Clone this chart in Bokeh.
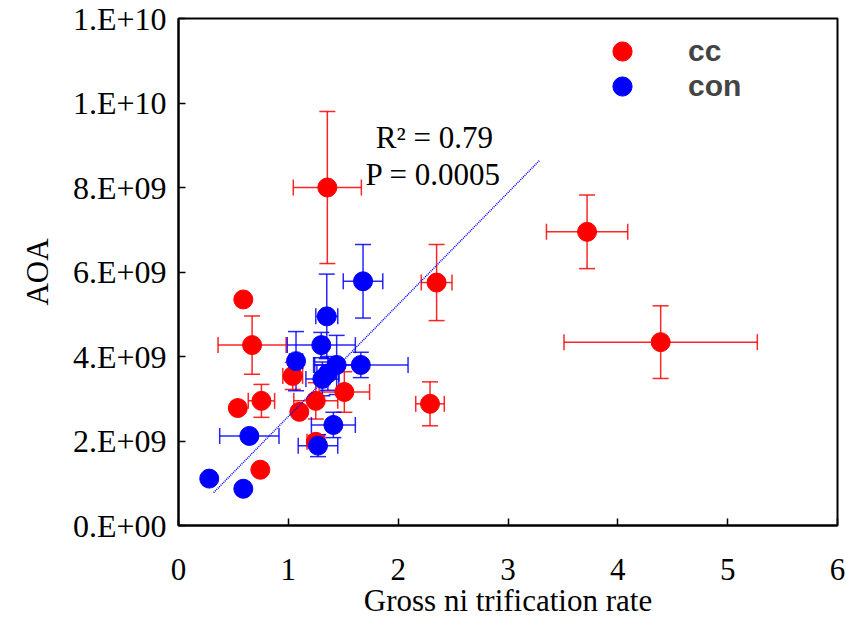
from bokeh.plotting import figure
from bokeh.models import (ColumnDataSource, Whisker, TeeHead, Legend, LegendItem,
                          FixedTicker, CustomJSTickFormatter, Label, Range1d)
from bokeh.embed import file_html
from bokeh.resources import INLINE

# ---- data ----
cc_x    = [1.355, 3.72, 4.39, 2.35, 2.29, 0.59, 0.67, 0.54, 0.755, 1.04, 1.10, 1.25, 1.51, 1.25, 0.745]
cc_y    = [8.0e9, 6.95e9, 4.34e9, 5.75e9, 2.88e9, 5.35e9, 4.27e9, 2.78e9, 2.95e9, 3.54e9, 2.69e9, 2.95e9, 3.16e9, 1.98e9, 1.32e9]
cc_xerr = [0.31, 0.37, 0.88, 0.14, 0.13, None, 0.31, None, 0.12, 0.09, None, 0.20, 0.23, 0.08, None]
cc_yerr = [1.8e9, 0.87e9, 0.86e9, 0.9e9, 0.52e9, None, 0.69e9, None, 0.39e9, 0.32e9, None, 0.43e9, 0.48e9, 0.15e9, None]

con_x    = [1.68, 1.35, 1.30, 1.07, 1.44, 1.66, 1.31, 1.36, 1.41, 1.27, 0.645, 0.28, 0.59]
con_y    = [5.78e9, 4.95e9, 4.27e9, 3.89e9, 3.80e9, 3.80e9, 3.47e9, 3.60e9, 2.38e9, 1.89e9, 2.12e9, 1.11e9, 0.87e9]
con_xerr = [0.18, 0.10, 0.31, 0.06, 0.20, 0.43, 0.15, 0.10, 0.20, 0.18, 0.27, None, None]
con_yerr = [0.87e9, 1.0e9, 0.30e9, 0.70e9, 0.70e9, 0.30e9, 0.40e9, 0.40e9, 0.30e9, 0.26e9, 0.10e9, None, None]

trend_x = [0.32, 3.29]
trend_slope = 2.65e9
trend_intercept = -0.07e9

x_ticks = [0, 1, 2, 3, 4, 5, 6]
y_ticks = [0, 2e9, 4e9, 6e9, 8e9, 1.0e10, 1.2e10]
y_tick_labels = ["0.E+00", "2.E+09", "4.E+09", "6.E+09", "8.E+09", "1.E+10", "1.E+10"]

series_names = ["cc", "con"]
stat_lines = ["R\u00b2 = 0.79", "P = 0.0005"]

SERIF = "Liberation Serif"
RED = "#ff0000"
BLUE = "#0000ff"

p = figure(width=846, height=620, output_backend="svg", toolbar_location=None,
           x_range=Range1d(0, 6), y_range=Range1d(0, 1.2e10),
           min_border_left=178, min_border_right=9, min_border_top=18, min_border_bottom=93)
p.grid.visible = False
p.outline_line_color = "black"
p.outline_line_width = 2
p.background_fill_color = "white"
p.border_fill_color = "white"

def err_sources(xs, ys, xe, ye):
    xi = [i for i in range(len(xs)) if xe[i] is not None]
    yi = [i for i in range(len(xs)) if ye[i] is not None]
    sx = ColumnDataSource(dict(base=[ys[i] for i in xi],
                               lower=[xs[i] - xe[i] for i in xi],
                               upper=[xs[i] + xe[i] for i in xi]))
    sy = ColumnDataSource(dict(base=[xs[i] for i in yi],
                               lower=[ys[i] - ye[i] for i in yi],
                               upper=[ys[i] + ye[i] for i in yi]))
    return sx, sy

def add_errors(xs, ys, xe, ye, color):
    sx, sy = err_sources(xs, ys, xe, ye)
    for src, dim in ((sx, "width"), (sy, "height")):
        w = Whisker(source=src, base="base", lower="lower", upper="upper", dimension=dim,
                    line_color=color, line_width=1.5, line_alpha=0.85,
                    upper_head=TeeHead(size=16, line_color=color, line_width=1.5, line_alpha=0.85),
                    lower_head=TeeHead(size=16, line_color=color, line_width=1.5, line_alpha=0.85))
        p.add_layout(w)

add_errors(cc_x, cc_y, cc_xerr, cc_yerr, RED)
add_errors(con_x, con_y, con_xerr, con_yerr, BLUE)

r_cc = p.scatter(cc_x, cc_y, size=19, color=RED, line_color=RED)
r_con = p.scatter(con_x, con_y, size=19, color=BLUE, line_color=BLUE)

trend_y = [trend_slope * x + trend_intercept for x in trend_x]
p.line(trend_x, trend_y, line_color=BLUE, line_width=1.5, line_dash="1 1")

# stats text
p.add_layout(Label(x=2.33, y=9.19e9, text=stat_lines[0], text_align="center", text_baseline="middle",
                   text_font=SERIF, text_font_size="31px", text_color="black"))
p.add_layout(Label(x=2.32, y=8.30e9, text=stat_lines[1], text_align="center", text_baseline="middle",
                   text_font=SERIF, text_font_size="31px", text_color="black"))

# axes
p.xaxis.ticker = FixedTicker(ticks=x_ticks)
p.yaxis.ticker = FixedTicker(ticks=y_ticks)
p.yaxis.formatter = CustomJSTickFormatter(args=dict(yt=y_ticks, yl=y_tick_labels), code="""
    let best = 0, bd = Infinity;
    for (let i = 0; i < yt.length; i++) {
        const d = Math.abs(yt[i] - tick);
        if (d < bd) { bd = d; best = i; }
    }
    return yl[best];
""")
for ax in (p.xaxis[0], p.yaxis[0]):
    ax.axis_line_width = 2
    ax.axis_line_color = "black"
    ax.major_tick_in = 7
    ax.major_tick_out = 0
    ax.major_tick_line_width = 1.5
    ax.minor_tick_line_color = None
    ax.major_label_text_font = SERIF
    ax.major_label_text_color = "black"
    ax.axis_label_text_font = SERIF
    ax.axis_label_text_font_style = "normal"
    ax.axis_label_text_color = "black"

p.xaxis.major_label_text_font_size = "31px"
p.yaxis.major_label_text_font_size = "32px"
p.xaxis.major_label_standoff = 33
p.yaxis.major_label_standoff = 12
p.xaxis.axis_label = "Gross ni trification rate"
p.yaxis.axis_label = "AOA"
p.xaxis.axis_label_text_font_size = "31px"
p.yaxis.axis_label_text_font_size = "31px"
p.xaxis.axis_label_standoff = 0
p.yaxis.axis_label_standoff = 15

# legend: one small legend per series so the rows can sit 35px apart
for name, rend, loc in ((series_names[0], r_cc, (420, 450)), (series_names[1], r_con, (420, 415))):
    lg = Legend(items=[LegendItem(label=name, renderers=[rend])],
                location=loc, border_line_color=None, background_fill_alpha=0,
                label_text_font="Liberation Sans", label_text_font_style="bold",
                label_text_font_size="30px", label_text_baseline="middle",
                glyph_width=48, glyph_height=48, label_height=20, spacing=0,
                label_standoff=42, padding=0, margin=0)
    p.add_layout(lg)

open("out.html", "w").write(file_html(p, INLINE))
